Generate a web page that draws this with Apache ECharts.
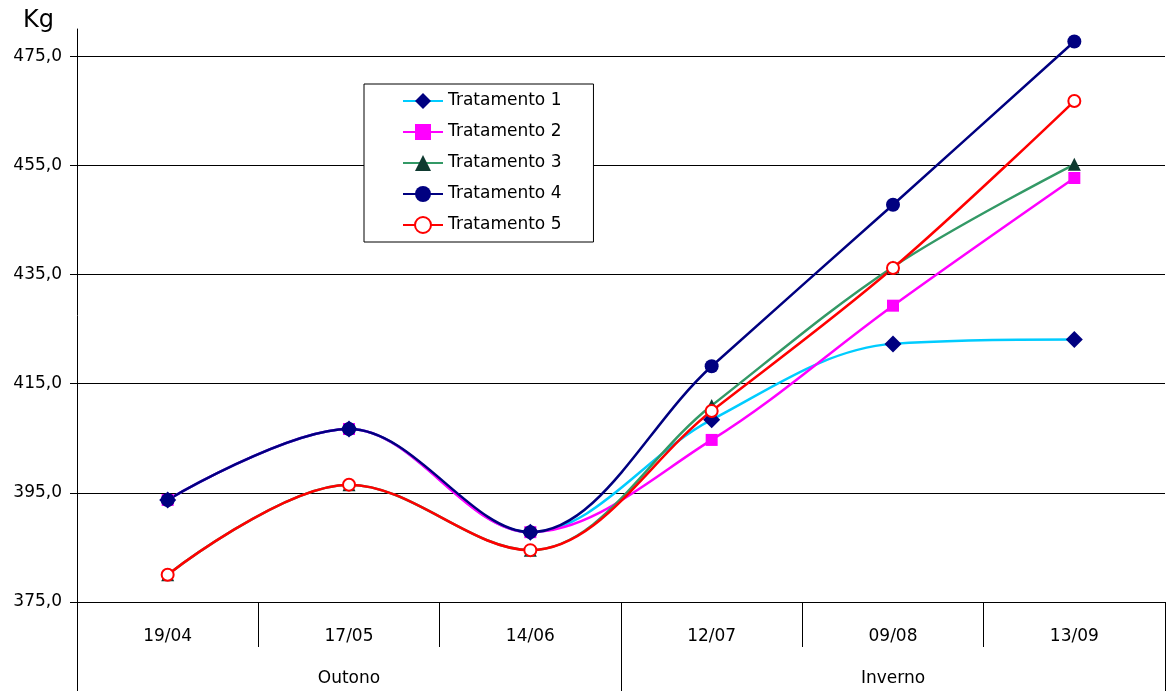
<!DOCTYPE html>
<html>
<head>
<meta charset="utf-8">
<script src="https://cdn.jsdelivr.net/npm/echarts@6/dist/echarts.min.js"></script>
<style>html,body{margin:0;padding:0;background:#fff}#c{width:1167px;height:691px}</style>
</head>
<body>
<div id="c"></div>
<script>
const categories = ['19/04', '17/05', '14/06', '12/07', '09/08', '13/09'];
const seasons = ['Outono', 'Inverno'];
const yTicks = [375, 395, 415, 435, 455, 475];
const seriesNames = ['Tratamento 1', 'Tratamento 2', 'Tratamento 3', 'Tratamento 4', 'Tratamento 5'];
const trat1 = [393.7, 406.7, 387.8, 408.4, 422.3, 423.1];
const trat2 = [393.7, 406.7, 387.8, 404.7, 429.3, 452.7];
const trat3 = [380.0, 396.5, 384.5, 411.0, 436.4, 455.2];
const trat4 = [393.7, 406.7, 387.8, 418.2, 447.8, 477.7];
const trat5 = [380.0, 396.5, 384.5, 410.0, 436.2, 466.8];

const FONT = 'DejaVu Sans';
const chart = echarts.init(document.getElementById('c'));

function mk(name, data, lineColor, symbol, symColor, size) {
  return {
    name: name,
    type: 'line',
    data: data,
    smooth: 0.35,
    symbol: symbol,
    symbolSize: size,
    lineStyle: { color: lineColor, width: 2.5 },
    itemStyle: { color: symColor },
    emphasis: { disabled: true },
    z: 3
  };
}

chart.setOption({
  animation: false,
  backgroundColor: '#fff',
  textStyle: { fontFamily: FONT },
  grid: { left: 77, right: 2, top: 29, bottom: 89, containLabel: false },
  graphic: [{
    type: 'text', left: 23, top: 9,
    style: { text: 'Kg', font: '24px "DejaVu Sans"', fill: '#000' }
  }],
  legend: {
    orient: 'vertical',
    left: 364, top: 84,
    data: seriesNames,
    backgroundColor: '#fff',
    borderColor: '#000', borderWidth: 1,
    padding: [7, 32, 7, 38],
    itemWidth: 40, itemHeight: 20, itemGap: 11,
    textStyle: { fontFamily: FONT, fontSize: 17, color: '#000', lineHeight: 20 }
  },
  xAxis: [{
    type: 'category',
    data: categories,
    boundaryGap: true,
    axisLine: { show: true, lineStyle: { color: '#000', width: 1 } },
    axisTick: { show: true, length: 45, interval: 0, lineStyle: { color: '#000' } },
    axisLabel: { interval: 0, margin: 26, fontFamily: FONT, fontSize: 17, color: '#000' },
    splitLine: { show: false }
  }, {
    type: 'category',
    data: seasons,
    position: 'bottom',
    offset: 45,
    boundaryGap: true,
    axisLine: { show: false },
    axisTick: { show: true, length: 44, interval: 0, lineStyle: { color: '#000' } },
    axisLabel: { interval: 0, margin: 23, fontFamily: FONT, fontSize: 17, color: '#000' },
    splitLine: { show: false }
  }],
  yAxis: {
    type: 'value',
    min: 375, max: 480,
    axisLine: { show: true, lineStyle: { color: '#000', width: 1 } },
    axisTick: { show: true, length: 7, inside: false, customValues: yTicks, lineStyle: { color: '#000' } },
    axisLabel: {
      customValues: yTicks,
      margin: 15, fontFamily: FONT, fontSize: 17, color: '#000',
      formatter: v => v.toFixed(1).replace('.', ',')
    },
    splitLine: { show: true, lineStyle: { color: '#000', width: 1 } }
  },
  series: [
    mk(seriesNames[0], trat1, '#00CCFF', 'diamond', '#000080', 17),
    mk(seriesNames[1], trat2, '#FF00FF', 'rect', '#FF00FF', 12),
    mk(seriesNames[2], trat3, '#339966', 'triangle', '#0F3A30', 13),
    mk(seriesNames[3], trat4, '#000080', 'circle', '#000080', 14),
    mk(seriesNames[4], trat5, '#FF0000', 'emptyCircle', '#FF0000', 12)
  ]
});
</script>
</body>
</html>
